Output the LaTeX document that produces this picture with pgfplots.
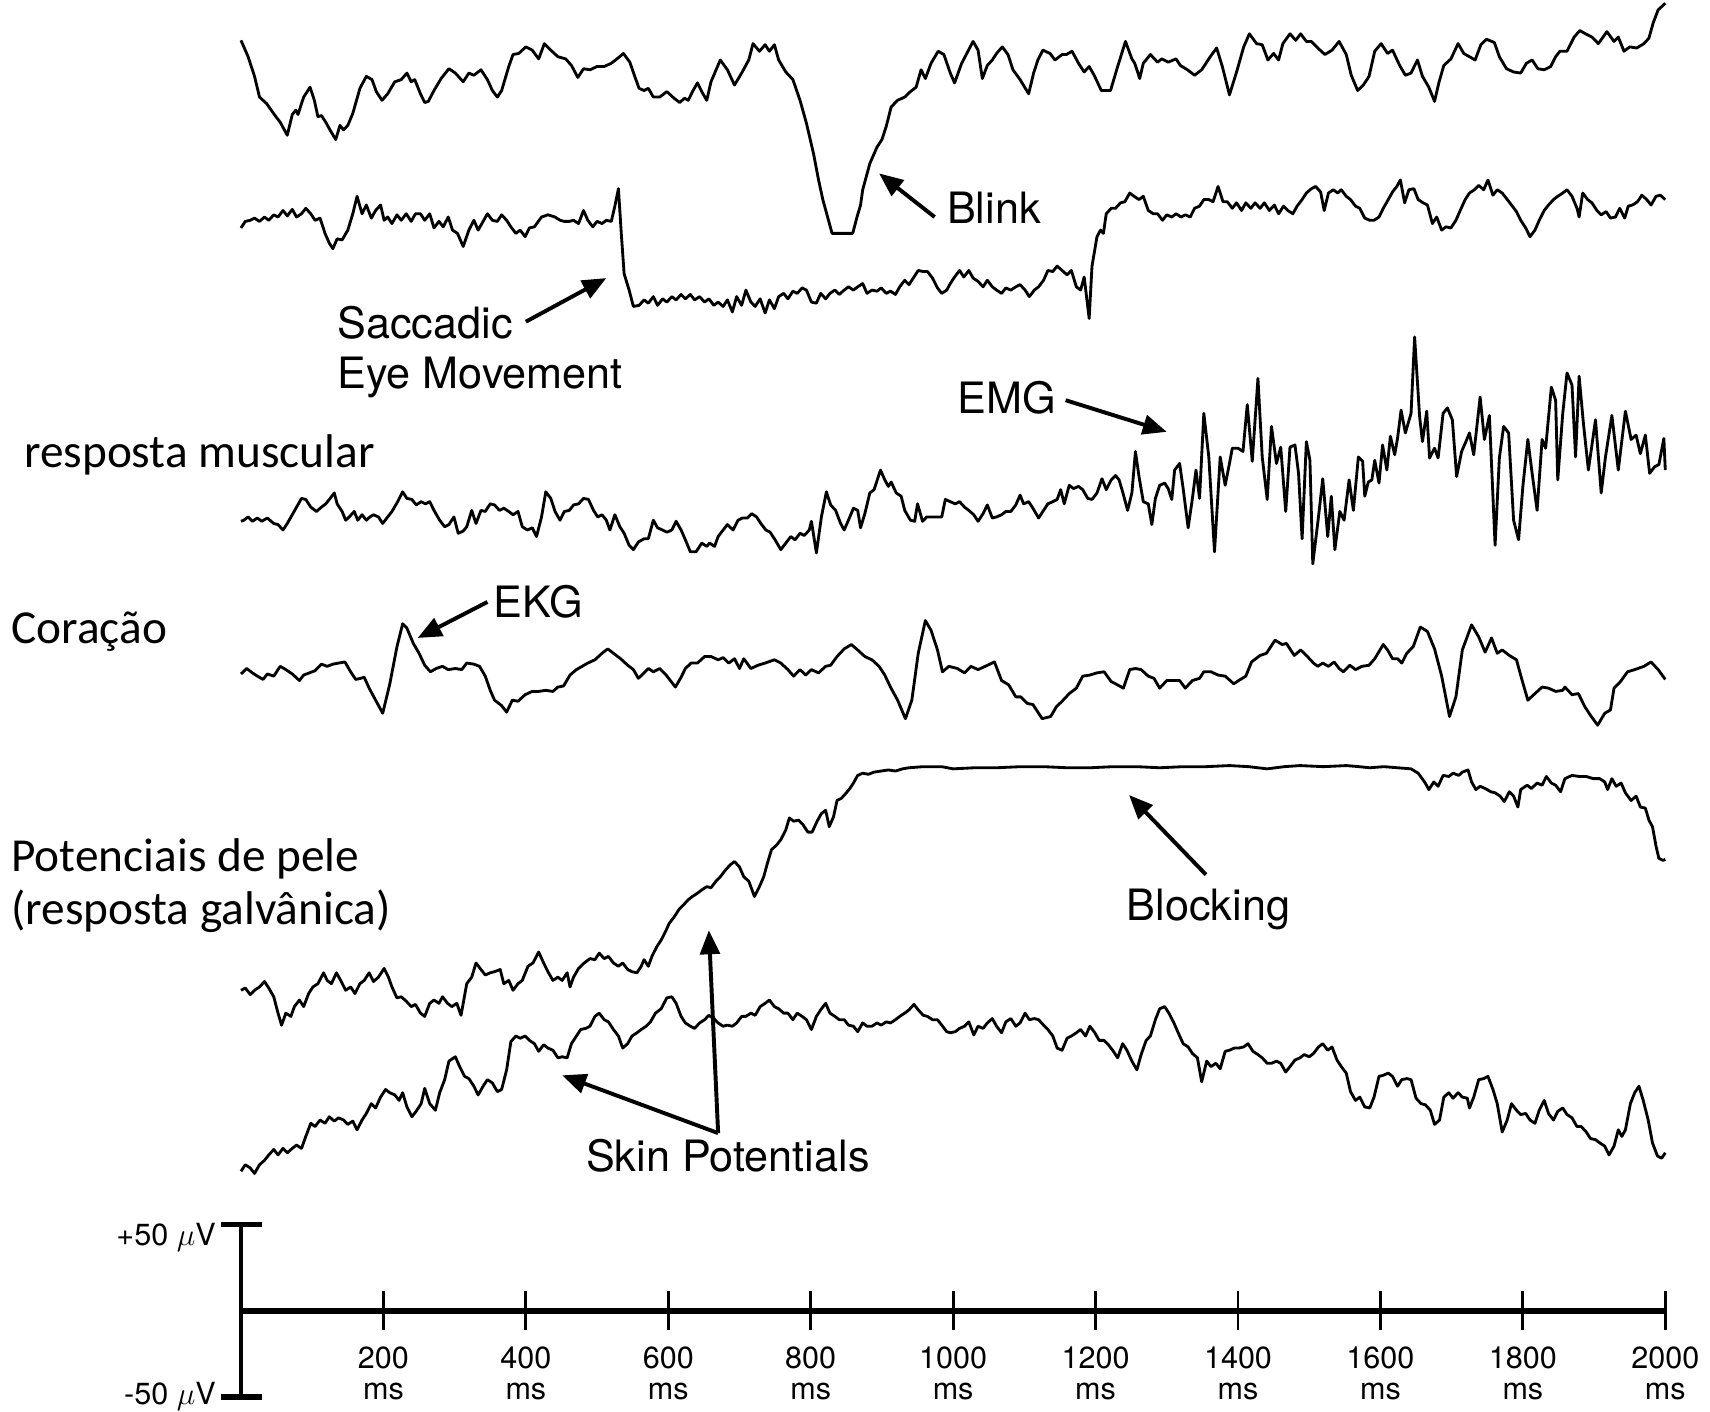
\documentclass[border=0pt]{standalone}
\usepackage{pgfplots}
\pgfplotsset{compat=1.18}
\usepackage{pgfplotstable}
\usetikzlibrary{arrows.meta}
\usepackage{fontspec}
\setmainfont{TeX Gyre Heros}
\newfontfamily\calibri{Carlito}

% x = time (ms), y = vertical position on the page (display px, downwards)
\pgfplotstableread[row sep=\\]{x y\\
0 37\\ 10 52\\ 19 70\\ 26 89\\ 36 95\\ 49 107\\ 55 112\\ 65 124\\ 72 105\\ 77 101\\ 80 105\\ 88 89\\ 97 80\\ 103 92\\ 108 107\\ 113 106\\ 119 112\\ 124 118\\ 133 128\\ 139 115\\ 144 119\\ 150 115\\ 157 104\\ 167 81\\ 176 70\\ 184 73\\ 190 84\\ 198 92\\ 206 86\\ 216 75\\ 225 73\\ 233 67\\ 239 75\\ 244 73\\ 252 86\\ 258 94\\ 263 93\\ 271 83\\ 281 72\\ 292 63\\ 301 67\\ 312 75\\ 320 67\\ 327 69\\ 337 64\\ 346 73\\ 353 83\\ 360 89\\ 366 83\\ 376 61\\ 382 50\\ 390 49\\ 400 43\\ 409 46\\ 418 54\\ 426 40\\ 435 46\\ 445 52\\ 456 54\\ 464 60\\ 473 71\\ 481 63\\ 490 64\\ 500 61\\ 510 61\\ 520 58\\ 528 54\\ 537 49\\ 546 57\\ 554 72\\ 559 81\\ 566 83\\ 572 81\\ 579 89\\ 588 89\\ 598 84\\ 608 90\\ 616 94\\ 623 90\\ 628 92\\ 634 84\\ 641 76\\ 647 84\\ 654 92\\ 660 75\\ 673 55\\ 683 64\\ 693 78\\ 703 67\\ 713 55\\ 719 40\\ 728 47\\ 736 41\\ 742 47\\ 749 41\\ 755 55\\ 765 66\\ 775 73\\ 785 92\\ 794 113\\ 804 141\\ 811 165\\ 817 183\\ 830 214\\ 859 214\\ 865 199\\ 870 188\\ 873 174\\ 883 150\\ 893 135\\ 900 128\\ 906 116\\ 913 98\\ 922 92\\ 932 89\\ 940 84\\ 948 80\\ 955 64\\ 961 72\\ 969 58\\ 979 47\\ 987 50\\ 996 67\\ 1002 76\\ 1012 58\\ 1028 38\\ 1035 46\\ 1041 72\\ 1048 60\\ 1055 55\\ 1061 49\\ 1069 43\\ 1077 50\\ 1084 64\\ 1094 73\\ 1106 86\\ 1113 67\\ 1119 55\\ 1126 46\\ 1136 49\\ 1143 55\\ 1153 50\\ 1159 50\\ 1167 47\\ 1176 58\\ 1184 66\\ 1191 61\\ 1198 69\\ 1208 83\\ 1221 83\\ 1231 61\\ 1242 38\\ 1251 54\\ 1255 58\\ 1262 72\\ 1267 58\\ 1277 50\\ 1287 57\\ 1293 54\\ 1302 57\\ 1313 54\\ 1319 60\\ 1329 64\\ 1339 69\\ 1349 64\\ 1361 52\\ 1370 44\\ 1378 61\\ 1388 87\\ 1398 66\\ 1408 43\\ 1416 31\\ 1426 40\\ 1434 41\\ 1442 55\\ 1450 49\\ 1457 55\\ 1463 40\\ 1473 31\\ 1481 37\\ 1488 31\\ 1496 38\\ 1503 38\\ 1512 44\\ 1522 50\\ 1532 46\\ 1542 38\\ 1552 50\\ 1559 69\\ 1568 83\\ 1576 78\\ 1584 70\\ 1592 47\\ 1601 40\\ 1610 49\\ 1617 46\\ 1627 60\\ 1635 69\\ 1643 67\\ 1652 55\\ 1659 70\\ 1668 80\\ 1676 93\\ 1682 76\\ 1689 60\\ 1699 54\\ 1709 40\\ 1717 49\\ 1725 52\\ 1733 55\\ 1741 41\\ 1749 36\\ 1760 39\\ 1767 52\\ 1777 63\\ 1787 66\\ 1797 67\\ 1805 58\\ 1813 55\\ 1821 63\\ 1830 64\\ 1839 61\\ 1846 52\\ 1852 47\\ 1862 47\\ 1872 34\\ 1880 28\\ 1888 31\\ 1897 34\\ 1906 40\\ 1918 29\\ 1928 38\\ 1934 34\\ 1942 47\\ 1950 43\\ 1960 44\\ 1970 40\\ 1977 35\\ 1983 21\\ 1990 9\\ 2000 3\\
}\tblink

\pgfplotstableread[row sep=\\]{x y\\
0 209\\ 6 203\\ 13 202\\ 19 200\\ 26 203\\ 33 199\\ 39 202\\ 46 197\\ 52 199\\ 59 193\\ 65 198\\ 72 192\\ 78 199\\ 85 196\\ 91 191\\ 98 196\\ 104 202\\ 111 200\\ 118 214\\ 124 223\\ 129 228\\ 135 219\\ 142 220\\ 150 211\\ 157 196\\ 163 180\\ 170 196\\ 176 188\\ 183 200\\ 189 193\\ 196 188\\ 201 202\\ 206 199\\ 212 205\\ 219 197\\ 225 202\\ 232 196\\ 239 203\\ 245 196\\ 252 196\\ 258 202\\ 265 196\\ 271 209\\ 278 203\\ 284 208\\ 291 199\\ 297 211\\ 304 214\\ 312 226\\ 320 211\\ 327 202\\ 333 211\\ 340 203\\ 346 196\\ 353 202\\ 360 203\\ 366 197\\ 373 202\\ 379 208\\ 386 214\\ 392 211\\ 399 217\\ 405 209\\ 412 208\\ 422 199\\ 431 197\\ 441 199\\ 448 202\\ 454 203\\ 461 203\\ 467 202\\ 474 205\\ 481 193\\ 487 202\\ 494 208\\ 500 203\\ 507 205\\ 513 202\\ 520 203\\ 525 189\\ 530 173\\ 534 214\\ 538 251\\ 545 266\\ 551 281\\ 559 280\\ 566 275\\ 572 278\\ 579 272\\ 585 280\\ 592 274\\ 598 277\\ 605 272\\ 611 275\\ 618 270\\ 624 274\\ 631 270\\ 637 275\\ 644 272\\ 651 277\\ 657 274\\ 664 280\\ 670 277\\ 677 281\\ 683 275\\ 690 286\\ 696 272\\ 703 280\\ 709 266\\ 716 277\\ 722 281\\ 729 274\\ 736 287\\ 742 275\\ 749 283\\ 755 272\\ 762 269\\ 768 274\\ 775 267\\ 781 269\\ 788 264\\ 794 266\\ 801 277\\ 808 278\\ 814 269\\ 821 274\\ 827 269\\ 834 266\\ 840 270\\ 847 266\\ 853 263\\ 860 266\\ 866 263\\ 873 260\\ 879 269\\ 886 266\\ 893 267\\ 899 264\\ 906 269\\ 912 267\\ 919 270\\ 925 263\\ 932 257\\ 938 261\\ 945 254\\ 951 248\\ 958 249\\ 964 249\\ 971 255\\ 978 264\\ 984 269\\ 991 266\\ 996 260\\ 1002 254\\ 1009 248\\ 1015 254\\ 1022 248\\ 1028 255\\ 1035 258\\ 1042 263\\ 1048 257\\ 1055 263\\ 1061 266\\ 1068 269\\ 1074 264\\ 1081 266\\ 1088 263\\ 1094 261\\ 1101 266\\ 1107 272\\ 1114 266\\ 1120 263\\ 1127 257\\ 1133 248\\ 1140 249\\ 1146 244\\ 1153 248\\ 1160 252\\ 1166 248\\ 1173 263\\ 1179 266\\ 1184 254\\ 1191 292\\ 1195 244\\ 1202 217\\ 1207 211\\ 1211 214\\ 1215 196\\ 1222 191\\ 1228 191\\ 1235 186\\ 1241 185\\ 1248 177\\ 1254 180\\ 1261 183\\ 1267 180\\ 1274 193\\ 1281 196\\ 1287 196\\ 1294 202\\ 1300 197\\ 1307 199\\ 1313 196\\ 1320 199\\ 1326 197\\ 1333 199\\ 1339 191\\ 1346 189\\ 1352 183\\ 1359 183\\ 1365 185\\ 1372 171\\ 1379 185\\ 1385 185\\ 1392 191\\ 1398 186\\ 1405 193\\ 1411 186\\ 1418 191\\ 1424 186\\ 1431 191\\ 1437 186\\ 1444 193\\ 1451 188\\ 1457 196\\ 1464 189\\ 1470 193\\ 1477 196\\ 1483 189\\ 1490 183\\ 1496 177\\ 1503 173\\ 1509 171\\ 1516 176\\ 1521 193\\ 1527 177\\ 1534 174\\ 1540 177\\ 1545 174\\ 1552 180\\ 1558 183\\ 1565 189\\ 1571 191\\ 1578 200\\ 1585 202\\ 1591 202\\ 1598 199\\ 1604 191\\ 1611 183\\ 1617 176\\ 1623 171\\ 1628 165\\ 1634 186\\ 1640 174\\ 1647 173\\ 1653 183\\ 1660 186\\ 1666 188\\ 1673 205\\ 1679 199\\ 1686 211\\ 1692 208\\ 1699 209\\ 1706 202\\ 1712 193\\ 1719 183\\ 1725 177\\ 1732 174\\ 1738 170\\ 1745 174\\ 1751 165\\ 1758 179\\ 1764 174\\ 1771 177\\ 1777 182\\ 1784 188\\ 1791 194\\ 1797 202\\ 1804 209\\ 1810 217\\ 1817 211\\ 1823 202\\ 1830 193\\ 1836 188\\ 1843 183\\ 1849 180\\ 1856 177\\ 1862 174\\ 1869 180\\ 1876 191\\ 1879 199\\ 1884 177\\ 1891 183\\ 1897 186\\ 1904 193\\ 1910 197\\ 1917 194\\ 1923 200\\ 1930 199\\ 1936 191\\ 1943 200\\ 1948 189\\ 1954 188\\ 1961 185\\ 1967 179\\ 1974 183\\ 1980 188\\ 1987 180\\ 1993 179\\ 2000 183\\
}\tsaccade

\pgfplotstableread[row sep=\\]{x y\\
0 478\\ 4 477\\ 10 474\\ 16 478\\ 23 475\\ 29 478\\ 37 475\\ 46 480\\ 52 481\\ 59 486\\ 65 480\\ 72 472\\ 78 465\\ 85 457\\ 91 458\\ 98 465\\ 106 469\\ 113 465\\ 119 462\\ 124 458\\ 131 452\\ 135 462\\ 142 469\\ 147 477\\ 152 474\\ 159 469\\ 164 477\\ 170 472\\ 176 477\\ 181 474\\ 186 472\\ 193 474\\ 199 480\\ 206 474\\ 212 469\\ 220 460\\ 227 451\\ 233 457\\ 240 458\\ 246 463\\ 253 460\\ 259 462\\ 265 460\\ 271 468\\ 279 477\\ 286 483\\ 292 481\\ 299 474\\ 305 489\\ 312 487\\ 317 483\\ 324 468\\ 330 480\\ 337 468\\ 343 469\\ 350 462\\ 356 463\\ 363 468\\ 369 466\\ 376 469\\ 382 472\\ 389 469\\ 395 483\\ 402 486\\ 409 484\\ 415 492\\ 422 474\\ 428 451\\ 435 457\\ 441 469\\ 448 477\\ 454 469\\ 461 468\\ 467 463\\ 474 462\\ 481 457\\ 488 458\\ 495 468\\ 501 474\\ 507 472\\ 513 477\\ 518 486\\ 525 472\\ 532 483\\ 538 489\\ 545 500\\ 551 504\\ 558 497\\ 566 494\\ 572 494\\ 579 477\\ 585 484\\ 592 486\\ 598 488\\ 605 486\\ 611 478\\ 618 486\\ 624 495\\ 631 506\\ 639 506\\ 647 498\\ 654 501\\ 658 498\\ 665 501\\ 670 492\\ 677 486\\ 683 481\\ 691 486\\ 698 477\\ 704 475\\ 711 475\\ 717 471\\ 724 474\\ 730 480\\ 737 486\\ 743 488\\ 750 495\\ 758 504\\ 765 498\\ 772 492\\ 778 495\\ 785 489\\ 791 491\\ 798 486\\ 801 478\\ 808 507\\ 815 474\\ 822 451\\ 828 463\\ 835 468\\ 842 480\\ 847 486\\ 853 477\\ 860 466\\ 866 468\\ 870 484\\ 876 471\\ 883 452\\ 889 449\\ 898 431\\ 904 440\\ 909 446\\ 913 442\\ 920 452\\ 927 455\\ 932 468\\ 940 477\\ 946 478\\ 950 462\\ 957 478\\ 963 474\\ 971 474\\ 984 474\\ 989 458\\ 996 460\\ 1003 462\\ 1009 460\\ 1016 465\\ 1022 468\\ 1029 472\\ 1035 478\\ 1042 471\\ 1048 463\\ 1055 475\\ 1061 474\\ 1068 472\\ 1074 469\\ 1081 469\\ 1088 463\\ 1094 454\\ 1099 462\\ 1106 460\\ 1112 466\\ 1120 475\\ 1127 468\\ 1133 462\\ 1140 460\\ 1146 458\\ 1151 449\\ 1156 462\\ 1163 445\\ 1169 448\\ 1176 446\\ 1182 449\\ 1189 457\\ 1195 458\\ 1202 452\\ 1209 439\\ 1215 449\\ 1222 440\\ 1228 436\\ 1233 440\\ 1238 451\\ 1245 468\\ 1251 452\\ 1256 414\\ 1261 437\\ 1267 460\\ 1274 462\\ 1279 481\\ 1284 457\\ 1290 445\\ 1297 443\\ 1302 448\\ 1307 458\\ 1311 431\\ 1318 425\\ 1323 448\\ 1330 484\\ 1336 457\\ 1341 431\\ 1346 457\\ 1352 379\\ 1359 419\\ 1367 506\\ 1375 419\\ 1382 445\\ 1388 425\\ 1392 411\\ 1400 411\\ 1407 414\\ 1413 371\\ 1420 423\\ 1428 347\\ 1434 419\\ 1441 458\\ 1447 391\\ 1454 425\\ 1460 410\\ 1467 469\\ 1473 410\\ 1480 408\\ 1485 434\\ 1490 494\\ 1496 405\\ 1501 422\\ 1505 517\\ 1513 474\\ 1519 439\\ 1526 492\\ 1531 455\\ 1536 504\\ 1543 469\\ 1549 477\\ 1556 440\\ 1562 468\\ 1569 419\\ 1575 423\\ 1578 455\\ 1583 442\\ 1588 440\\ 1592 422\\ 1598 443\\ 1603 408\\ 1609 431\\ 1614 400\\ 1620 417\\ 1624 402\\ 1629 376\\ 1635 397\\ 1643 379\\ 1648 309\\ 1655 382\\ 1659 405\\ 1665 377\\ 1669 420\\ 1676 411\\ 1681 420\\ 1688 379\\ 1694 374\\ 1701 385\\ 1707 437\\ 1714 414\\ 1720 405\\ 1725 397\\ 1731 417\\ 1740 364\\ 1746 403\\ 1753 381\\ 1761 500\\ 1767 420\\ 1773 391\\ 1780 397\\ 1787 477\\ 1794 495\\ 1800 446\\ 1807 403\\ 1813 434\\ 1820 468\\ 1827 403\\ 1832 411\\ 1840 355\\ 1846 367\\ 1849 440\\ 1856 379\\ 1862 342\\ 1869 353\\ 1874 419\\ 1879 345\\ 1885 388\\ 1892 431\\ 1902 385\\ 1910 452\\ 1916 419\\ 1925 381\\ 1934 431\\ 1944 377\\ 1952 403\\ 1959 399\\ 1965 416\\ 1972 399\\ 1978 434\\ 1985 428\\ 1991 426\\ 1998 402\\ 2000 431\\
}\temg

\pgfplotstableread[row sep=\\]{x y\\
0 618\\ 8 613\\ 16 617\\ 23 620\\ 31 623\\ 37 618\\ 46 620\\ 55 611\\ 63 614\\ 72 618\\ 82 624\\ 88 619\\ 96 617\\ 104 615\\ 113 609\\ 121 611\\ 129 609\\ 137 608\\ 146 607\\ 154 616\\ 161 623\\ 168 622\\ 173 621\\ 180 631\\ 189 642\\ 199 654\\ 209 627\\ 219 593\\ 227 572\\ 233 576\\ 242 590\\ 250 599\\ 258 610\\ 266 616\\ 274 613\\ 283 611\\ 291 614\\ 301 613\\ 310 614\\ 317 608\\ 327 609\\ 335 611\\ 343 620\\ 350 633\\ 356 642\\ 366 647\\ 373 653\\ 381 642\\ 389 643\\ 399 637\\ 409 634\\ 418 634\\ 428 633\\ 438 634\\ 445 630\\ 453 629\\ 462 619\\ 471 614\\ 479 611\\ 487 608\\ 497 605\\ 507 599\\ 515 595\\ 523 599\\ 533 604\\ 543 610\\ 551 614\\ 558 622\\ 566 617\\ 572 613\\ 579 616\\ 588 613\\ 597 619\\ 610 630\\ 618 621\\ 624 613\\ 632 608\\ 641 608\\ 651 602\\ 660 602\\ 670 605\\ 677 603\\ 685 608\\ 693 604\\ 700 613\\ 706 604\\ 716 613\\ 726 610\\ 736 608\\ 749 605\\ 758 608\\ 768 614\\ 776 620\\ 785 614\\ 793 619\\ 801 614\\ 811 617\\ 821 611\\ 828 610\\ 837 602\\ 847 595\\ 857 591\\ 866 596\\ 876 602\\ 886 605\\ 896 611\\ 904 619\\ 912 630\\ 922 642\\ 933 659\\ 942 642\\ 951 599\\ 961 569\\ 969 578\\ 978 596\\ 985 616\\ 994 611\\ 1006 613\\ 1016 617\\ 1025 611\\ 1035 614\\ 1045 611\\ 1058 607\\ 1068 624\\ 1078 628\\ 1088 639\\ 1095 639\\ 1104 645\\ 1112 646\\ 1125 659\\ 1137 657\\ 1145 648\\ 1153 643\\ 1163 636\\ 1173 631\\ 1182 620\\ 1192 619\\ 1202 617\\ 1212 616\\ 1222 625\\ 1228 627\\ 1239 631\\ 1248 614\\ 1256 613\\ 1264 614\\ 1274 620\\ 1282 622\\ 1290 631\\ 1300 624\\ 1310 624\\ 1318 624\\ 1326 631\\ 1336 624\\ 1346 622\\ 1352 616\\ 1362 616\\ 1372 619\\ 1382 620\\ 1394 627\\ 1401 624\\ 1411 620\\ 1419 607\\ 1431 601\\ 1440 599\\ 1452 587\\ 1462 591\\ 1468 590\\ 1479 601\\ 1488 596\\ 1496 601\\ 1506 608\\ 1512 611\\ 1519 608\\ 1527 611\\ 1535 607\\ 1542 613\\ 1548 616\\ 1557 610\\ 1565 614\\ 1574 611\\ 1584 610\\ 1592 604\\ 1604 591\\ 1610 596\\ 1617 604\\ 1624 604\\ 1630 608\\ 1637 599\\ 1646 593\\ 1656 575\\ 1666 579\\ 1676 595\\ 1686 620\\ 1697 657\\ 1706 639\\ 1715 596\\ 1728 573\\ 1738 584\\ 1747 598\\ 1756 585\\ 1764 599\\ 1771 596\\ 1781 601\\ 1791 605\\ 1799 624\\ 1807 642\\ 1817 636\\ 1827 630\\ 1836 631\\ 1846 634\\ 1856 633\\ 1859 630\\ 1869 637\\ 1878 636\\ 1887 648\\ 1895 656\\ 1905 665\\ 1915 654\\ 1923 651\\ 1928 631\\ 1937 625\\ 1947 616\\ 1957 614\\ 1970 611\\ 1980 607\\ 1990 614\\ 2000 623\\
}\tekg

\pgfplotstableread[row sep=\\]{x y\\
0 908\\ 6 906\\ 13 912\\ 19 908\\ 26 905\\ 33 900\\ 39 906\\ 46 914\\ 52 929\\ 57 940\\ 63 929\\ 70 932\\ 75 923\\ 82 917\\ 88 923\\ 95 911\\ 101 905\\ 108 902\\ 116 892\\ 121 899\\ 127 902\\ 134 892\\ 140 899\\ 147 908\\ 154 905\\ 160 911\\ 167 902\\ 173 899\\ 180 892\\ 186 900\\ 193 896\\ 201 888\\ 207 896\\ 212 905\\ 219 915\\ 225 914\\ 232 918\\ 239 923\\ 245 921\\ 252 929\\ 258 932\\ 265 920\\ 271 917\\ 278 920\\ 283 914\\ 290 920\\ 296 923\\ 303 920\\ 309 931\\ 317 902\\ 324 896\\ 330 883\\ 337 889\\ 343 894\\ 350 892\\ 356 891\\ 364 889\\ 369 902\\ 376 899\\ 382 908\\ 389 902\\ 395 899\\ 403 886\\ 410 883\\ 418 873\\ 425 883\\ 431 891\\ 438 899\\ 445 896\\ 451 899\\ 458 892\\ 462 905\\ 467 896\\ 474 888\\ 482 883\\ 490 879\\ 497 880\\ 503 874\\ 510 879\\ 516 877\\ 523 883\\ 530 886\\ 536 883\\ 543 889\\ 549 891\\ 556 892\\ 562 886\\ 566 880\\ 572 886\\ 577 877\\ 584 868\\ 590 862\\ 597 853\\ 601 847\\ 608 841\\ 615 834\\ 621 830\\ 628 825\\ 634 822\\ 641 819\\ 647 816\\ 654 813\\ 660 814\\ 667 808\\ 673 804\\ 680 798\\ 687 793\\ 693 790\\ 700 795\\ 706 804\\ 713 808\\ 721 822\\ 728 813\\ 734 804\\ 739 792\\ 745 779\\ 752 775\\ 758 770\\ 765 761\\ 770 750\\ 776 753\\ 783 752\\ 789 756\\ 796 763\\ 802 763\\ 809 753\\ 815 746\\ 821 743\\ 826 758\\ 832 749\\ 837 734\\ 843 732\\ 850 727\\ 855 723\\ 860 718\\ 866 711\\ 873 709\\ 881 710\\ 889 708\\ 899 707\\ 909 706\\ 919 707\\ 929 705\\ 938 704\\ 958 703\\ 984 703\\ 1000 705\\ 1030 704\\ 1061 704\\ 1095 703\\ 1127 703\\ 1160 704\\ 1192 704\\ 1225 703\\ 1258 703\\ 1290 704\\ 1323 703\\ 1355 703\\ 1388 702\\ 1415 703\\ 1441 705\\ 1465 703\\ 1487 702\\ 1520 703\\ 1552 702\\ 1570 703\\ 1585 704\\ 1605 703\\ 1624 704\\ 1643 705\\ 1653 709\\ 1662 717\\ 1668 724\\ 1675 717\\ 1681 721\\ 1688 711\\ 1696 712\\ 1702 709\\ 1710 711\\ 1715 708\\ 1723 706\\ 1728 717\\ 1734 724\\ 1740 721\\ 1747 723\\ 1755 726\\ 1761 727\\ 1768 730\\ 1774 735\\ 1781 726\\ 1787 730\\ 1793 740\\ 1797 724\\ 1806 720\\ 1812 723\\ 1820 718\\ 1827 720\\ 1833 712\\ 1840 718\\ 1846 720\\ 1853 726\\ 1859 714\\ 1869 711\\ 1879 712\\ 1889 712\\ 1899 714\\ 1908 714\\ 1915 717\\ 1919 724\\ 1925 714\\ 1931 721\\ 1938 718\\ 1944 727\\ 1952 734\\ 1959 730\\ 1965 740\\ 1972 741\\ 1977 752\\ 1982 758\\ 1987 776\\ 1991 787\\ 1997 789\\ 2000 788\\
}\tblock

\pgfplotstableread[row sep=\\]{x y\\
0 1074\\ 6 1068\\ 13 1071\\ 19 1076\\ 26 1068\\ 33 1064\\ 39 1059\\ 46 1054\\ 52 1059\\ 59 1053\\ 65 1057\\ 72 1053\\ 78 1050\\ 85 1053\\ 91 1042\\ 98 1030\\ 104 1033\\ 111 1027\\ 118 1030\\ 124 1024\\ 131 1028\\ 137 1025\\ 144 1027\\ 150 1031\\ 157 1028\\ 163 1036\\ 170 1027\\ 176 1021\\ 183 1012\\ 189 1016\\ 196 1006\\ 203 999\\ 209 1002\\ 216 1004\\ 222 1009\\ 227 1002\\ 233 1015\\ 240 1024\\ 246 1019\\ 253 1012\\ 258 998\\ 265 1012\\ 273 1018\\ 279 1002\\ 286 990\\ 292 973\\ 301 969\\ 307 978\\ 314 987\\ 320 989\\ 327 996\\ 333 1004\\ 340 996\\ 346 990\\ 353 993\\ 360 1001\\ 366 999\\ 373 981\\ 379 955\\ 386 950\\ 392 952\\ 399 950\\ 405 954\\ 412 957\\ 418 964\\ 425 958\\ 431 961\\ 438 963\\ 445 970\\ 451 969\\ 458 970\\ 464 957\\ 471 950\\ 477 944\\ 484 943\\ 490 941\\ 497 932\\ 503 929\\ 510 935\\ 516 937\\ 523 944\\ 530 950\\ 536 961\\ 543 957\\ 549 950\\ 556 947\\ 562 944\\ 569 941\\ 575 937\\ 582 929\\ 590 925\\ 598 915\\ 605 914\\ 611 920\\ 618 932\\ 624 938\\ 631 941\\ 637 943\\ 644 938\\ 651 935\\ 657 931\\ 664 934\\ 670 938\\ 677 941\\ 683 940\\ 690 941\\ 696 938\\ 703 932\\ 709 932\\ 716 929\\ 722 931\\ 729 923\\ 736 920\\ 742 917\\ 749 923\\ 755 925\\ 762 929\\ 768 929\\ 775 935\\ 781 929\\ 788 932\\ 794 935\\ 801 944\\ 808 932\\ 814 926\\ 821 920\\ 827 929\\ 834 932\\ 840 935\\ 847 935\\ 853 940\\ 860 941\\ 866 946\\ 873 938\\ 879 941\\ 886 941\\ 893 938\\ 899 940\\ 906 937\\ 912 938\\ 919 935\\ 925 932\\ 932 929\\ 938 926\\ 945 921\\ 951 926\\ 958 931\\ 964 932\\ 971 935\\ 978 935\\ 984 940\\ 991 946\\ 996 947\\ 1003 946\\ 1009 943\\ 1016 941\\ 1022 937\\ 1029 949\\ 1035 941\\ 1042 943\\ 1048 938\\ 1055 934\\ 1061 941\\ 1068 947\\ 1074 937\\ 1081 934\\ 1088 941\\ 1094 938\\ 1101 929\\ 1107 935\\ 1114 934\\ 1120 935\\ 1127 940\\ 1133 944\\ 1140 950\\ 1146 961\\ 1153 963\\ 1160 952\\ 1166 950\\ 1173 947\\ 1179 944\\ 1186 950\\ 1192 941\\ 1199 947\\ 1205 954\\ 1212 954\\ 1218 958\\ 1225 964\\ 1231 970\\ 1238 957\\ 1244 963\\ 1251 973\\ 1258 981\\ 1264 967\\ 1271 954\\ 1277 950\\ 1284 935\\ 1290 925\\ 1297 923\\ 1303 929\\ 1310 938\\ 1316 947\\ 1323 957\\ 1330 960\\ 1336 966\\ 1343 970\\ 1349 992\\ 1356 973\\ 1362 978\\ 1369 975\\ 1375 980\\ 1382 964\\ 1388 963\\ 1395 961\\ 1401 961\\ 1408 960\\ 1414 957\\ 1421 964\\ 1428 967\\ 1434 970\\ 1441 975\\ 1447 975\\ 1454 973\\ 1460 975\\ 1467 983\\ 1473 978\\ 1480 972\\ 1487 970\\ 1493 967\\ 1500 969\\ 1506 966\\ 1513 960\\ 1519 957\\ 1526 963\\ 1532 960\\ 1539 972\\ 1545 978\\ 1552 984\\ 1558 1001\\ 1565 1009\\ 1571 1006\\ 1578 1015\\ 1585 1016\\ 1591 1006\\ 1598 987\\ 1604 986\\ 1611 984\\ 1617 987\\ 1624 996\\ 1630 990\\ 1637 989\\ 1643 990\\ 1650 1007\\ 1657 1012\\ 1663 1013\\ 1670 1018\\ 1676 1031\\ 1683 1027\\ 1689 1006\\ 1696 1002\\ 1702 1007\\ 1709 1002\\ 1715 1006\\ 1722 1007\\ 1725 1016\\ 1731 1006\\ 1738 990\\ 1745 989\\ 1751 987\\ 1758 999\\ 1764 1012\\ 1771 1038\\ 1778 1027\\ 1784 1012\\ 1791 1018\\ 1797 1022\\ 1804 1021\\ 1810 1027\\ 1817 1030\\ 1823 1018\\ 1830 1009\\ 1836 1021\\ 1843 1027\\ 1849 1019\\ 1856 1016\\ 1862 1022\\ 1869 1025\\ 1876 1033\\ 1882 1033\\ 1889 1038\\ 1895 1044\\ 1902 1045\\ 1908 1048\\ 1915 1051\\ 1921 1059\\ 1928 1051\\ 1934 1036\\ 1939 1042\\ 1944 1036\\ 1951 1012\\ 1957 1002\\ 1963 996\\ 1969 1009\\ 1976 1027\\ 1982 1048\\ 1989 1060\\ 1995 1062\\ 2000 1057\\
}\tskin

\newcommand\annfont{\fontsize{19.8}{23}\selectfont}
\newcommand\ptfont{\calibri\fontsize{21.7}{26}\selectfont}
\newcommand\tickfont{\fontsize{14}{16}\selectfont}

\tikzset{
  trace/.style={black, line width=1.3pt, line join=round},
  ann/.style={black, line width=1.8pt, -{Triangle[length=11pt,width=9pt]}},
}

\begin{document}
\begin{tikzpicture}
\begin{axis}[
  width=784pt, height=647pt, scale only axis,
  xmin=-338.4, xmax=2062.8, ymin=0, ymax=1294, y dir=reverse,
  hide axis, clip=false,
]
\path (axis cs:-338.4,0) (axis cs:2062.8,1294);

\addplot[trace, no markers] table[x=x,y=y] {\tblink};
\addplot[trace, no markers] table[x=x,y=y] {\tsaccade};
\addplot[trace, no markers] table[x=x,y=y] {\temg};
\addplot[trace, no markers] table[x=x,y=y] {\tekg};
\addplot[trace, no markers] table[x=x,y=y] {\tblock};
\addplot[trace, no markers] table[x=x,y=y] {\tskin};

% annotations
\node[anchor=base west, inner sep=0, font=\annfont] at (axis cs:991,205) {Blink};
\draw[ann] (axis cs:974,199) -- (axis cs:896,159);
\node[anchor=base west, inner sep=0, font=\annfont] at (axis cs:135,310) {Saccadic};
\node[anchor=base west, inner sep=0, font=\annfont] at (axis cs:135,356) {Eye Movement};
\draw[ann] (axis cs:400,295) -- (axis cs:513,255);
\node[anchor=base west, inner sep=0, font=\annfont] at (axis cs:1006,379) {EMG};
\draw[ann] (axis cs:1158,367) -- (axis cs:1300,396);
\node[anchor=base west, inner sep=0, font=\annfont] at (axis cs:354,566) {EKG};
\draw[ann] (axis cs:346,552) -- (axis cs:248,585);
\node[anchor=base west, inner sep=0, font=\annfont] at (axis cs:1243,844) {Blocking};
\draw[ann] (axis cs:1355,802) -- (axis cs:1247,729);
\node[anchor=base west, inner sep=0, font=\annfont] at (axis cs:484,1074) {Skin Potentials};
\draw[ann] (axis cs:670,1039) -- (axis cs:451,986);
\draw[ann] (axis cs:670,1039) -- (axis cs:657,853);

% Portuguese labels
\node[anchor=base west, inner sep=0, font=\ptfont] at (axis cs:-305,429) {resposta muscular};
\node[anchor=base west, inner sep=0, font=\ptfont] at (axis cs:-323,590) {Coração};
\node[anchor=base west, inner sep=0, font=\ptfont] at (axis cs:-323,799) {Potenciais de pele};
\node[anchor=base west, inner sep=0, font=\ptfont] at (axis cs:-323,848) {(resposta galvânica)};

% time axis and scale bar
\draw[line width=2.6pt] (axis cs:0,1202) -- (axis cs:2000,1202);
\pgfplotsinvokeforeach{200,400,600,800,1000,1200,1400,1600,1800,2000}{
  \draw[line width=1.3pt] (axis cs:#1,1184) -- (axis cs:#1,1220);
  \node[anchor=base, inner sep=0, font=\tickfont] at (axis cs:#1,1255) {#1};
  \node[anchor=base, inner sep=0, font=\tickfont] at (axis cs:#1,1283) {ms};
}
\draw[line width=1.4pt] (axis cs:0,1123) -- (axis cs:0,1281);
\draw[line width=2.5pt] (axis cs:-28,1123) -- (axis cs:29,1123);
\draw[line width=2.5pt] (axis cs:-28,1281) -- (axis cs:29,1281);
\node[anchor=base east, inner sep=0, font=\tickfont] at (axis cs:-35,1142) {+50 $\mu$V};
\node[anchor=base east, inner sep=0, font=\tickfont] at (axis cs:-35,1288) {-50 $\mu$V};
\end{axis}
\end{tikzpicture}
\end{document}
